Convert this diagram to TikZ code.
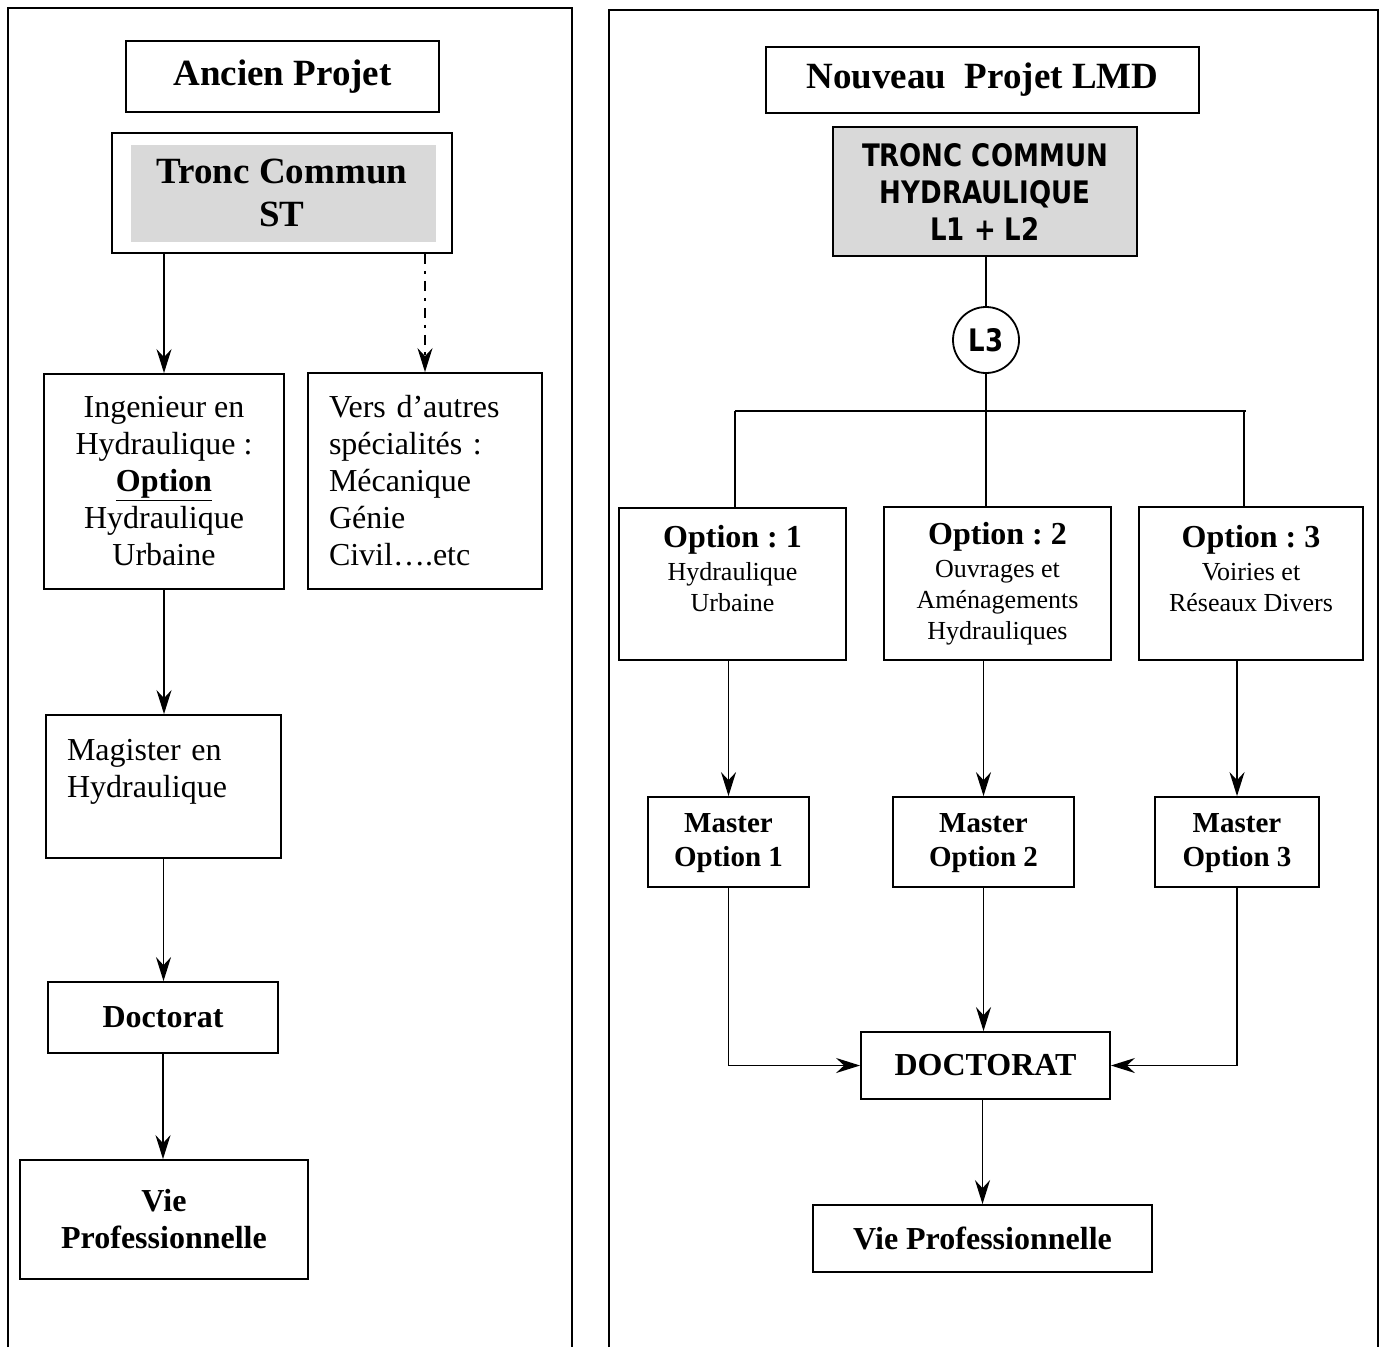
\documentclass[tikz,border=0pt]{standalone}
\usepackage{fontspec}
\setmainfont{Liberation Serif}
\newfontfamily\tahoma[FakeStretch=0.84]{DejaVu Sans}
\usetikzlibrary{arrows.meta,positioning,calc}
\frenchspacing

\begin{document}
\begin{tikzpicture}[x=1pt,y=-1pt,line width=1.8pt,
  box/.style={draw,inner sep=0pt,align=center},
  bigbf/.style={font=\fontsize{37}{43}\selectfont\bfseries},
  txt/.style={font=\fontsize{32}{37}\selectfont},
  txtbf/.style={font=\fontsize{32}{37}\selectfont\bfseries},
  mast/.style={font=\fontsize{29}{34}\selectfont\bfseries},
  optbody/.style={font=\fontsize{26}{31}\selectfont},
  sansbf/.style={font=\fontsize{31}{37}\selectfont\tahoma\bfseries},
  arr/.style={-{Stealth[length=24pt,width=15pt,inset=8pt]}},
  shade/.style={fill=black!15}]
\useasboundingbox (0,0) rectangle (1386,1347);
% panels
\draw (8,1347) -- (8,8) -- (572,8) -- (572,1347);
\draw (609,1347) -- (609,10) -- (1378,10) -- (1378,1347);

% ancien projet
\node[box,bigbf,minimum width=313pt,minimum height=71pt] (anc) at (282.5,76.5) {Ancien Projet};
\node[box,bigbf,minimum width=340pt,minimum height=120pt,
  path picture={\fill[shade] ([shift={(19,12)}]path picture bounding box.north west) rectangle ([shift={(-16,-11)}]path picture bounding box.south east);}] (tcst) at (282,193) {Tronc Commun\\ST};
\node[box,txt,minimum width=240pt,minimum height=215pt] (ing) at (164,481.5) {Ingenieur en\\Hydraulique :\\\textbf{\underline{Option}}\\Hydraulique\\Urbaine};
\node[box,txt,align=left,text width=192pt,inner xsep=21pt,minimum height=216pt] (vers) at (425,481) {Vers d’autres\\spécialités :\\Mécanique\\Génie\\Civil….etc};
\node[box,txt,align=left,text width=193pt,inner xsep=21pt,minimum height=143pt] (mag) at (163.5,786.5) {Magister en\\Hydraulique\\~};
\node[box,txtbf,minimum width=230pt,minimum height=71pt] (doc1) at (163,1017.5) {Doctorat};
\node[box,txtbf,minimum width=288pt,minimum height=119pt] (vie1) at (164,1219.5) {Vie\\Professionnelle};

\draw[arr] (ing.north |- tcst.south) -- (ing.north);
\draw[arr,dash pattern=on 10pt off 7pt on 3pt off 7pt] (vers.north |- tcst.south) -- (vers.north);
\foreach \a/\b in {ing/mag,mag/doc1,doc1/vie1}
  \draw[arr] (\a.south) -- (\a.south |- \b.north);

% nouveau projet LMD
\node[box,bigbf,minimum width=433pt,minimum height=66pt] (nouv) at (982.5,80) {Nouveau~ Projet LMD};
\node[box,sansbf,fill=black!15,minimum width=304pt,minimum height=129pt] (tch) at (985,191.5) {TRONC COMMUN\\HYDRAULIQUE\\L1 + L2};
\node[draw,circle,sansbf,minimum size=66pt,inner sep=0pt] (l3) at (986,340) {L3};

\node[box,optbody,minimum width=227pt,minimum height=152pt] (op1) at (732.5,584) {{\fontsize{32}{37}\selectfont\bfseries Option : 1}\\[2pt]Hydraulique\\Urbaine\\~};
\node[box,optbody,minimum width=227pt,minimum height=153pt] (op2) at (997.5,583.5) {{\fontsize{32}{37}\selectfont\bfseries Option : 2}\\[2pt]Ouvrages et\\Aménagements\\Hydrauliques};
\node[box,optbody,minimum width=224pt,minimum height=153pt] (op3) at (1251,583.5) {{\fontsize{32}{37}\selectfont\bfseries Option : 3}\\[2pt]Voiries et\\Réseaux Divers\\~};

\foreach \n/\x/\w in {1/728.5/161,2/983.5/181,3/1237/164}
  \node[box,mast,minimum width=\w pt,minimum height=90pt,text depth=4pt] (m\n) at (\x,842) {Master\\Option \n};

\node[box,txtbf,minimum width=249pt,minimum height=67pt] (doc2) at (985.5,1065.5) {DOCTORAT};
\node[box,txtbf,minimum width=339pt,minimum height=67pt] (vie2) at (982.5,1238.5) {Vie Professionnelle};

\coordinate (busL) at (735,411);
\coordinate (busR) at (1246,411);
\draw (l3 |- tch.south) -- (l3.north);
\draw (l3.south) -- (l3.south |- op2.north);
\draw (busL) -- (busR);
\draw (busL) -- (busL |- op1.north);
\draw ([xshift=-2pt]busR) -- ([xshift=-2pt]busR |- op3.north);
\foreach \n in {1,2,3}
  \draw[arr] (m\n.north |- op\n.south) -- (m\n.north);
\draw[arr] (m1.south) |- (doc2.west);
\draw[arr] (m2.south) -- (m2.south |- doc2.north);
\draw[arr] (m3.south) |- (doc2.east);
\draw[arr] (vie2.north |- doc2.south) -- (vie2.north);
\end{tikzpicture}
\end{document}
